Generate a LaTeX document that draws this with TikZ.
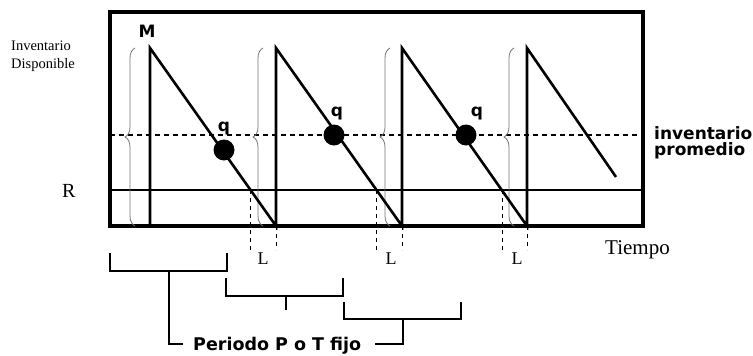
\documentclass[tikz,border=0pt]{standalone}
\usepackage{fontspec}
\setmainfont{Liberation Serif}
\newfontfamily\boldsans{DejaVu Sans}
\usetikzlibrary{decorations.pathreplacing}
\tikzset{
  frame/.style={line width=3.6pt},
  saw/.style={line width=2.6pt},
  avgline/.style={dash pattern=on 5pt off 4pt, line width=1.2pt},
  ldash/.style={dash pattern=on 4pt off 4pt, line width=1pt},
  bracestyle/.style={decorate, decoration={brace, amplitude=10pt}, black!55, line width=0.8pt},
  bracket/.style={line width=1.5pt},
  dot/.style={circle, fill=black, minimum size=21pt, inner sep=0pt},
  serif/.style={inner sep=0pt, font=\fontsize{#1}{#1}\selectfont},
  bsans/.style={inner sep=0pt, font=\boldsans\bfseries\fontsize{#1}{#1}\selectfont},
}
\begin{document}
\begin{tikzpicture}[x=1pt,y=-1pt]
\useasboundingbox (0,0) rectangle (753,356);
% frame
\coordinate (tl) at (110,12);
\coordinate (br) at (643,226);
\draw[frame] (tl) rectangle (br);
% reorder line R
\coordinate (rl) at (110,190);
\coordinate (rr) at (643,190);
\draw[line width=2.6pt] (rl) -- (rr);
% average line
\coordinate (al) at (110,135);
\coordinate (ar) at (643,135);
\draw[avgline] (al) -- (ar);
% braces
\foreach \x/\n in {135/1,263/2,390/3,514/4}{
  \draw[bracestyle] (\x,226) -- (\x,48);
}
% sawtooth
\coordinate (b0) at (150,226);
\coordinate (p1) at (150,48);
\coordinate (b1) at (276,226);
\coordinate (p2) at (276,48);
\coordinate (b2) at (402,226);
\coordinate (p3) at (402,48);
\coordinate (b3) at (527,226);
\coordinate (p4) at (527,48);
\coordinate (e4) at (616,177);
\draw[saw] (b0) -- (p1) -- (b1) -- (p2) -- (b2) -- (p3) -- (b3) -- (p4) -- (e4);
% lead time dashed lines
\coordinate (r1) at (250.5,190);
\coordinate (r2) at (376.5,190);
\coordinate (r3) at (502.5,190);
\coordinate (r1d) at (250.5,250);
\coordinate (r2d) at (376.5,250);
\coordinate (r3d) at (502.5,250);
\coordinate (b1d) at (276,250);
\coordinate (b2d) at (402,250);
\coordinate (b3d) at (527,250);
\draw[ldash] (r1) -- (r1d);
\draw[ldash] (r2) -- (r2d);
\draw[ldash] (r3) -- (r3d);
\draw[ldash] (b1) -- (b1d);
\draw[ldash] (b2) -- (b2d);
\draw[ldash] (b3) -- (b3d);
\node[serif=18, anchor=base] (L1) at (263,264) {L};
\node[serif=18, anchor=base] (L2) at (391,264) {L};
\node[serif=18, anchor=base] (L3) at (517,264) {L};
% dots and labels
\node[dot] (d1) at (224,150) {};
\node[dot] (d2) at (334,135) {};
\node[dot] (d3) at (466,135) {};
\node[bsans=17] (q1) at (224,129) {q};
\node[bsans=17] (q2) at (337,114) {q};
\node[bsans=17] (q3) at (477,114) {q};
\node[bsans=17] (M) at (147,31) {M};
% texts
\node[serif=14.5, anchor=base west] (inv) at (11,50) {Inventario};
\node[serif=14.5, anchor=base west] (disp) at (11,68) {Disponible};
\node[serif=20, anchor=base west] (R) at (62,197) {R};
\node[serif=21, anchor=base west] (tiempo) at (605,254) {Tiempo};
\node[bsans=17, anchor=base west] (invp) at (654,139) {inventario};
\node[bsans=17, anchor=base west] (prom) at (654,155) {promedio};
\node[bsans=17.5, anchor=base west] (periodo) at (193,350) {Periodo P o T fijo};
% brackets
\draw[bracket] (110,253) -- (110,271) -- (227,271) -- (227,253);
\draw[bracket] (226,278) -- (226,296) -- (343,296) -- (343,278);
\draw[bracket] (344,302) -- (344,319) -- (461,319) -- (461,302);
\coordinate (s1) at (169,271);
\coordinate (s1b) at (169,344);
\coordinate (s1e) at (183,344);
\coordinate (s2) at (286,296);
\coordinate (s2e) at (286,310);
\coordinate (s3) at (403,319);
\coordinate (s3b) at (403,344);
\coordinate (s3e) at (375,344);
\draw[bracket] (s1) -- (s1b) -- (s1e);
\draw[bracket] (s2) -- (s2e);
\draw[bracket] (s3) -- (s3b) -- (s3e);
\end{tikzpicture}
\end{document}
